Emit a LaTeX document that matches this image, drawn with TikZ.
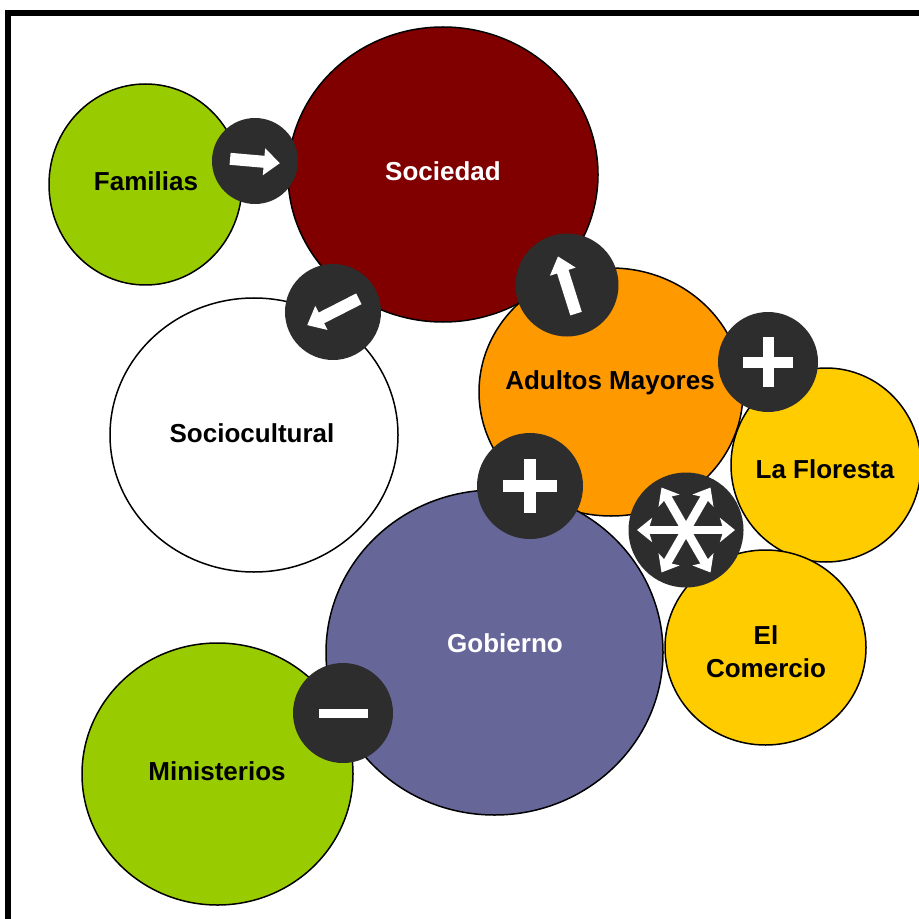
\documentclass[tikz,border=0pt]{standalone}
\usepackage{fontspec}
\setmainfont{Liberation Sans}
\usetikzlibrary{shapes.geometric,arrows.meta}
\definecolor{maroonc}{HTML}{800000}
\definecolor{limec}{HTML}{99CC00}
\definecolor{orangec}{HTML}{FF9900}
\definecolor{goldc}{HTML}{FFCC00}
\definecolor{slatec}{HTML}{666699}
\definecolor{hubgray}{HTML}{2D2D2D}
\begin{document}
\begin{tikzpicture}[x=0.5pt,y=-0.5pt,
  bubble/.style={ellipse, draw=black, line width=0.75pt, inner sep=0pt},
  lbl/.style={font=\bfseries\fontsize{13}{16.5}\selectfont, align=center, inner sep=0pt},
  hub/.style={circle, fill=hubgray, inner sep=0pt},
  blockarrow/.style={draw=white, line width=6pt, -{Triangle[width=13pt,length=8pt]}},
  dblarrow/.style={draw=white, line width=4.4pt, {Stealth[width=12pt,length=7.5pt,inset=1.8pt]}-{Stealth[width=12pt,length=7.5pt,inset=1.8pt]}}
]
\useasboundingbox (0,0) rectangle (919,919);
\clip (0,0) rectangle (919,919);
\fill[white] (0,0) rectangle (919,919);

% bubbles
\node[bubble, fill=maroonc, minimum width=155pt, minimum height=147.5pt] (soc) at (443,174.5) {};
\node[bubble, fill=limec, minimum width=96.5pt, minimum height=100.5pt] (fam) at (145.5,184.5) {};
\node[bubble, fill=white, minimum width=144pt, minimum height=137pt] (scu) at (254,435) {};
\node[bubble, fill=goldc, minimum width=95pt, minimum height=97pt] (flo) at (826,465) {};
\node[bubble, fill=orangec, minimum width=132pt, minimum height=124pt] (adm) at (611,392) {};
\node[bubble, fill=goldc, minimum width=100.5pt, minimum height=97.5pt] (com) at (765.5,647.5) {};
\node[bubble, fill=slatec, minimum width=168.5pt, minimum height=162.5pt] (gob) at (494.5,652.5) {};
\node[bubble, fill=limec, minimum width=135.5pt, minimum height=131pt] (min) at (217.5,774) {};

% labels
\node[lbl] (tfam) at (146,181) {Familias};
\node[lbl, text=white] (tsoc) at (443,171) {Sociedad};
\node[lbl] (tscu) at (252,433) {Sociocultural};
\node[lbl] (tadm) at (610,383) {Adultos Mayores};
\node[lbl] (tflo) at (825,469) {La Floresta};
\node[lbl] (tcom) at (766,652) {El\\Comercio};
\node[lbl, text=white] (tgob) at (505,643) {Gobierno};
\node[lbl] (tmin) at (217,771) {Ministerios};

% hubs
\node[hub, minimum size=43pt] (h1) at (255,161) {};
\node[hub, minimum size=48pt] (h2) at (333,312) {};
\node[hub, minimum size=51.5pt] (h3) at (567,285) {};
\node[hub, minimum size=50pt] (h4) at (768,362) {};
\node[hub, minimum size=53pt] (h5) at (530,486) {};
\node[hub, minimum size=57.5pt] (h6) at (686,530) {};
\node[hub, minimum size=50pt] (h7) at (343,713) {};

% arrows
\begin{scope}[shift={(h1.center)}, rotate=-5]
  \draw[blockarrow] (-25,0) -- (25,0);
\end{scope}
\begin{scope}[shift={(h2.center)}, rotate=207]
  \draw[blockarrow] (-29,0) -- (29,0);
\end{scope}
\begin{scope}[shift={(h3.center)}, rotate=107.5]
  \draw[blockarrow] (-30,0) -- (30,0);
\end{scope}

% plus signs
\fill[white] ([shift={(-25,-5.5)}]h4.center) rectangle ([shift={(25,5.5)}]h4.center);
\fill[white] ([shift={(-5.5,-25)}]h4.center) rectangle ([shift={(5.5,25)}]h4.center);
\fill[white] ([shift={(-27,-6)}]h5.center) rectangle ([shift={(27,6)}]h5.center);
\fill[white] ([shift={(-6,-27)}]h5.center) rectangle ([shift={(6,27)}]h5.center);

% minus
\fill[white] ([shift={(-24.5,-4.5)}]h7.center) rectangle ([shift={(24.5,4.5)}]h7.center);

% asterisk of double arrows
\begin{scope}[shift={(h6.center)}]
  \foreach \a in {0,60,120}{
    \draw[dblarrow, rotate=\a] (-49,0) -- (49,0);
  }
\end{scope}

% frame
\draw[line width=3pt] (8,919) -- (8,13) -- (919,13);
\end{tikzpicture}
\end{document}
